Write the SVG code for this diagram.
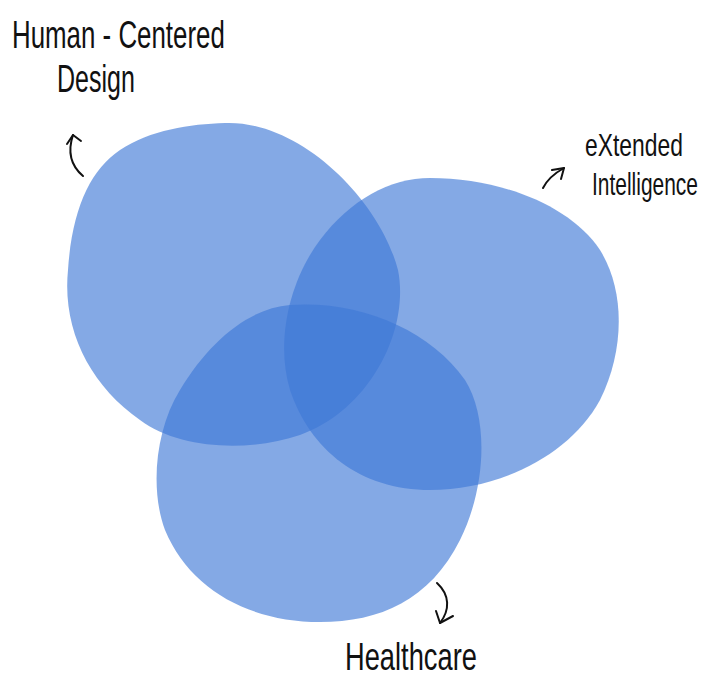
<svg xmlns="http://www.w3.org/2000/svg" width="707" height="688" viewBox="0 0 707 688">
<style>
.blob{fill:#3F79D6;fill-opacity:0.64;stroke:none}
.lbl{font-family:"Liberation Sans",Arial,sans-serif;font-size:38px;fill:#111}
.sm{font-size:32px}
.arr{fill:none;stroke:#111;stroke-width:2;stroke-linecap:round;stroke-linejoin:round}
</style>
<rect width="707" height="688" fill="#fff"/>
<g id="node-hcd">
<path class="blob" d="M225,123 C300,120 380,200 398,270 C410,330 370,410 300,435 C250,452 180,450 140,420 C90,385 62,330 68,270 C72,210 90,170 120,150 C150,130 190,124 225,123 Z"/>
<text class="lbl" transform="translate(12,48) scale(0.681,1)">Human - Centered</text>
<text class="lbl" transform="translate(57,92) scale(0.659,1)">Design</text>
</g>
<g id="node-xi">
<path class="blob" d="M430,178 C500,178 570,205 600,250 C625,290 625,350 600,400 C570,455 500,490 430,490 C360,490 310,450 290,390 C275,340 290,280 320,240 C350,200 390,178 430,178 Z"/>
<text class="lbl sm" transform="translate(585,156) scale(0.715,1)">eXtended</text>
<text class="lbl sm" transform="translate(592,195) scale(0.655,1)">Intelligence</text>
</g>
<g id="node-hc">
<path class="blob" d="M290,305 C360,300 430,330 465,380 C490,420 485,490 460,540 C430,600 380,622 320,622 C250,622 190,590 165,530 C150,490 155,430 180,390 C210,340 250,308 290,305 Z"/>
<text class="lbl" transform="translate(345,670) scale(0.718,1)">Healthcare</text>
</g>
<g id="connectors">
<path class="arr" d="M83,176 C70,165 68,150 73,135"/>
<path class="arr" d="M67,144 L73,135 L81,141"/>
<path class="arr" d="M543,188 C548,178 555,173 564,168"/>
<path class="arr" d="M552,170 L564,168 L561,179"/>
<path class="arr" d="M437,583 C450,595 450,610 440,623"/>
<path class="arr" d="M436,611 L440,623 L453,616"/>
</g>
</svg>
